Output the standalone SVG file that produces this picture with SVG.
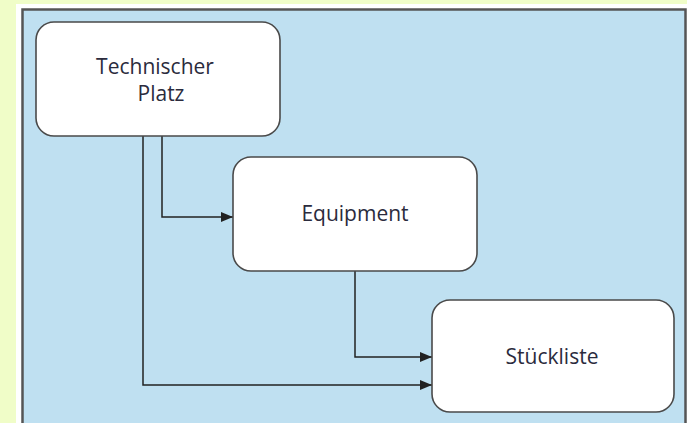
<svg xmlns="http://www.w3.org/2000/svg" width="687" height="423" viewBox="0 0 687 423">
<style>
.node rect{fill:#ffffff;stroke:#4a4a4a;stroke-width:1.6}
.node text{font-family:"Open Sans","Liberation Sans",sans-serif;font-size:21px;fill:#2b2b3d;text-anchor:middle}
.conn path{fill:none;stroke:#222;stroke-width:1.5}
</style>
<defs>
<marker id="ah" markerWidth="12" markerHeight="10" refX="12" refY="5" orient="auto" markerUnits="userSpaceOnUse">
<path d="M0,0 L12,5 L0,10 Z" fill="#222"/>
</marker>
</defs>
<rect x="0" y="0" width="687" height="423" fill="#f0fdc8"/>
<rect x="16" y="4" width="671" height="419" fill="#ffffff"/>
<rect x="22.5" y="9.5" width="663" height="420" fill="#bfe0f1" stroke="#555" stroke-width="2.5"/>
<g class="conn">
<path d="M143,136 V385 H432" marker-end="url(#ah)"/>
<path d="M162,136 V217 H233" marker-end="url(#ah)"/>
<path d="M355,271 V357 H432" marker-end="url(#ah)"/>
</g>
<g class="node" id="technischer-platz">
<rect x="36" y="22" width="244" height="114" rx="18"/>
<text x="155" y="74">Technischer</text>
<text x="161" y="101">Platz</text>
</g>
<g class="node" id="equipment">
<rect x="233" y="157" width="244" height="114" rx="18"/>
<text x="355" y="221">Equipment</text>
</g>
<g class="node" id="stueckliste">
<rect x="432" y="300" width="242" height="112" rx="18"/>
<text x="552" y="364">Stückliste</text>
</g>
</svg>
